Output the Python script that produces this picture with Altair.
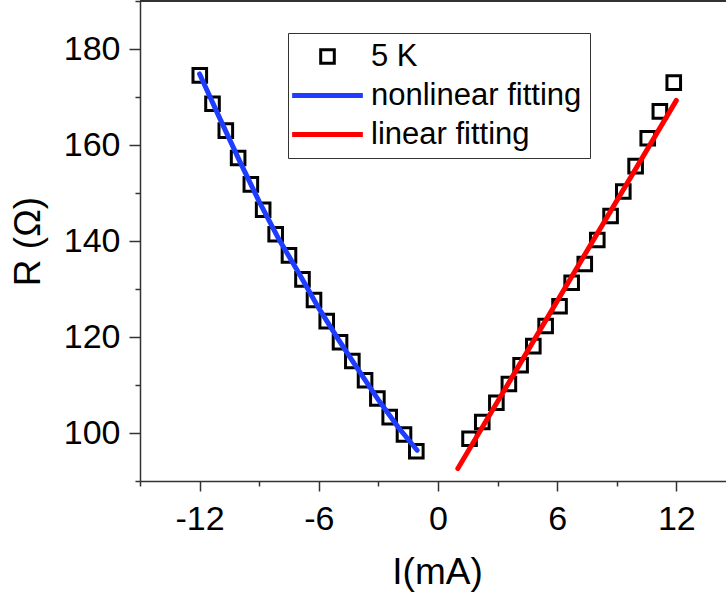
import altair as alt
import pandas as pd

# ---- data ----
left_I = [-11.99, -11.35, -10.68, -10.06, -9.42, -8.80, -8.17, -7.50, -6.82,
          -6.24, -5.60, -4.93, -4.31, -3.67, -3.05, -2.43, -1.71, -1.09]
left_R = [174.5, 168.6, 163.0, 157.3, 151.8, 146.5, 141.4, 137.0, 132.0,
          127.7, 123.3, 118.9, 115.0, 111.0, 107.2, 103.3, 99.7, 96.2]
right_I = [1.59, 2.23, 2.94, 3.57, 4.16, 4.80, 5.42, 6.12, 6.73, 7.39, 8.02,
           8.69, 9.33, 9.95, 10.56, 11.17, 11.87]
right_R = [98.8, 102.3, 106.3, 110.2, 114.1, 118.1, 122.3, 126.4, 131.3, 135.2,
           140.2, 145.2, 150.3, 155.6, 161.4, 167.0, 173.0]

nl_I = [-12.0, -11.0, -10.0, -9.0, -8.0, -7.0, -6.0, -5.0, -4.0, -3.0, -2.0, -1.05]
nl_R = [174.8, 165.7, 156.8, 148.2, 140.3, 133.3, 126.0, 119.4, 113.1, 106.9, 101.2, 96.4]
lin_I = [1.0, 12.0]
lin_R = [92.6, 169.3]

SERIES = ["5 K", "nonlinear fitting", "linear fitting"]
COLORS = ["#000000", "#1f3dff", "#ff0000"]
LINE_SYM = "M-5.2,0H5.2"
SHAPES = ["square", LINE_SYM, LINE_SYM]
WIDTHS = [3, 5, 5]

x_ticks = [-15, -12, -9, -6, -3, 0, 3, 6, 9, 12]
y_ticks = [90, 100, 110, 120, 130, 140, 150, 160, 170, 180, 190]

pts = pd.DataFrame({"I": left_I + right_I, "R": left_R + right_R,
                    "series": ["5 K"] * (len(left_I) + len(right_I))})
fits = pd.DataFrame({"I": nl_I + lin_I, "R": nl_R + lin_R,
                     "series": ["nonlinear fitting"] * len(nl_I) + ["linear fitting"] * len(lin_I)})

W, H = 586, 480
FONT = "Liberation Sans"
AX = "#333333"
SYM = 185

legend = alt.Legend(title=None, orient="none", legendX=148, legendY=32,
                    strokeColor=AX, fillColor="white", padding=8,
                    labelFontSize=31, labelFont=FONT, labelColor="black",
                    labelLimit=0, labelOffset=28, rowPadding=7, symbolOffset=16,
                    symbolSize=SYM, cornerRadius=0)

x_enc = alt.X("I:Q", scale=alt.Scale(domain=[-15, 14.5], nice=False, zero=False),
              axis=alt.Axis(title="I(mA)", values=x_ticks,
                            labelExpr="datum.value % 6 === 0 ? toString(datum.value) : ''",
                            tickSize={"condition": {"test": "datum.value % 6 === 0", "value": 10}, "value": 5},
                            labelPadding=11, titlePadding=18, titleX=297))
y_enc = alt.Y("R:Q", scale=alt.Scale(domain=[90, 190], nice=False, zero=False),
              axis=alt.Axis(title="R (Ω)", values=y_ticks,
                            labelExpr="datum.value % 20 === 0 ? toString(datum.value) : ''",
                            tickSize={"condition": {"test": "datum.value % 20 === 0", "value": 11}, "value": 5},
                            labelPadding=9, titlePadding=16))

color = alt.Color("series:N", scale=alt.Scale(domain=SERIES, range=COLORS), legend=legend)
shape = alt.Shape("series:N", scale=alt.Scale(domain=SERIES, range=SHAPES), legend=legend)
sw = alt.StrokeWidth("series:N", scale=alt.Scale(type="ordinal", domain=SERIES, range=WIDTHS), legend=legend)

points = alt.Chart(pts).mark_point(filled=False, opacity=1, size=SYM).encode(
    x=x_enc, y=y_enc, color=color, shape=shape, strokeWidth=sw)

lines = alt.Chart(fits).mark_line(strokeCap="round").encode(
    x="I:Q", y="R:Q", color=color, strokeWidth=sw, detail="series:N")

top = alt.Chart(pts).mark_rule(color=AX, strokeWidth=1.5).encode(
    x=alt.value(0), x2=alt.value(W), y=alt.value(0))

chart = alt.layer(points, lines, top).properties(
    width=W, height=H,
    autosize=alt.AutoSizeParams(type="none"),
    padding={"left": 140, "top": 1, "right": 0, "bottom": 124},
    background="white",
).configure_view(strokeWidth=0).configure_axis(
    grid=False, domainColor=AX, domainWidth=1.5, tickColor=AX, tickWidth=1.5,
    labelFont=FONT, labelFontSize=34, labelColor="black",
    titleFont=FONT, titleFontSize=37, titleFontWeight="normal", titleColor="black",
)

chart.save("out.html", embed_options={"renderer": "svg", "actions": False})
